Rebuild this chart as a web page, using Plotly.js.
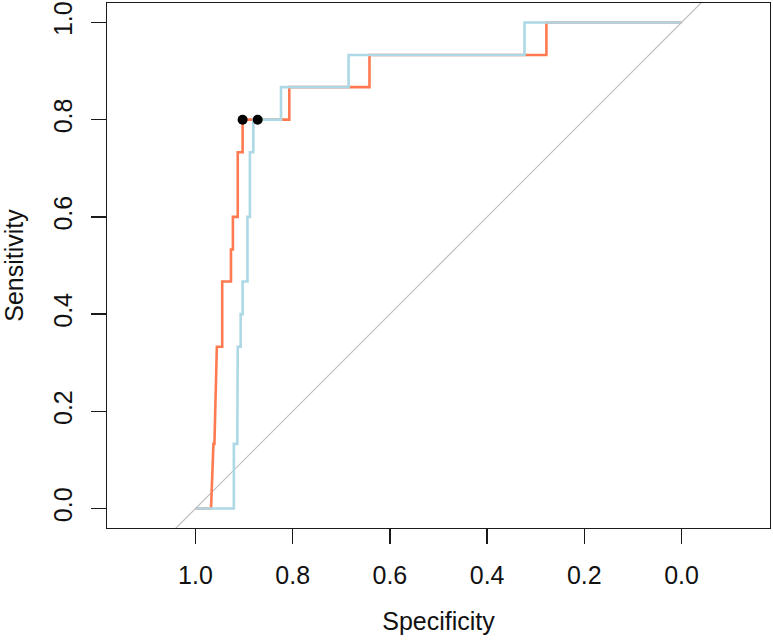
<!DOCTYPE html>
<html>
<head>
<meta charset="utf-8">
<script src="https://cdn.plot.ly/plotly-3.0.1.min.js"></script>
<style>html,body{margin:0;padding:0;background:#fff;}#chart{width:773px;height:642px;}</style>
</head>
<body>
<div id="chart"></div>
<script>
// ROC curve 1 (orange)
var orangeSpec = [1, 0.968, 0.963, 0.961, 0.956, 0.945, 0.945, 0.927, 0.927, 0.923, 0.923, 0.913, 0.913, 0.903, 0.903, 0.807, 0.807, 0.642, 0.642, 0.278, 0.278, 0];
var orangeSens = [0, 0, 0.133, 0.133, 0.333, 0.333, 0.467, 0.467, 0.533, 0.533, 0.6, 0.6, 0.733, 0.733, 0.8, 0.8, 0.867, 0.867, 0.933, 0.933, 1, 1];
// ROC curve 2 (light blue)
var blueSpec = [1, 0.921, 0.921, 0.914, 0.913, 0.907, 0.907, 0.903, 0.903, 0.893, 0.893, 0.888, 0.888, 0.881, 0.881, 0.872, 0.824, 0.824, 0.685, 0.685, 0.323, 0.323, 0];
var blueSens = [0, 0, 0.133, 0.133, 0.333, 0.333, 0.4, 0.4, 0.467, 0.467, 0.6, 0.6, 0.733, 0.733, 0.8, 0.8, 0.8, 0.867, 0.867, 0.933, 0.933, 1, 1];
// best thresholds
var bestSpec = [0.903, 0.872];
var bestSens = [0.8, 0.8];
// chance diagonal
var diagSpec = [1.3, -0.3];
var diagSens = [-0.3, 1.3];
var tickVals = [0, 0.2, 0.4, 0.6, 0.8, 1.0];
var tickText = ["0.0", "0.2", "0.4", "0.6", "0.8", "1.0"];

var font = "Liberation Sans, Arial, Helvetica, sans-serif";
var traces = [
  {x: diagSpec, y: diagSens, mode: "lines", line: {color: "#BEBEBE", width: 1.2}, hoverinfo: "skip", showlegend: false},
  {x: orangeSpec, y: orangeSens, mode: "lines", line: {color: "#FF7A50", width: 2.6}, showlegend: false},
  {x: blueSpec, y: blueSens, mode: "lines", line: {color: "#ADD8E6", width: 2.6}, showlegend: false},
  {x: bestSpec, y: bestSens, mode: "markers", marker: {color: "#000", size: 10}, showlegend: false}
];
var axisCommon = {
  showgrid: false, zeroline: false, showline: true, mirror: true,
  linecolor: "#1a1a1a", linewidth: 1.4,
  ticks: "outside", ticklen: 15, tickwidth: 1.3, tickcolor: "#1a1a1a",
  tickvals: tickVals, ticktext: tickText,
  tickfont: {family: font, size: 25, color: "#111"}
};
var layout = {
  width: 773, height: 642,
  margin: {l: 107, r: 3, t: 3, b: 114},
  paper_bgcolor: "#fff", plot_bgcolor: "#fff",
  xaxis: Object.assign({}, axisCommon, {
    range: [1.182, -0.182],
    ticklabelstandoff: 10,
    title: {text: "Specificity", font: {family: font, size: 25, color: "#111"}, standoff: 24}
  }),
  yaxis: Object.assign({}, axisCommon, {
    range: [-0.04, 1.04],
    tickangle: -90,
    ticklabelstandoff: 9,
    title: {text: "Sensitivity", font: {family: font, size: 25, color: "#111"}, standoff: 20}
  })
};
Plotly.newPlot("chart", traces, layout, {displayModeBar: false, staticPlot: true});
</script>
</body>
</html>
